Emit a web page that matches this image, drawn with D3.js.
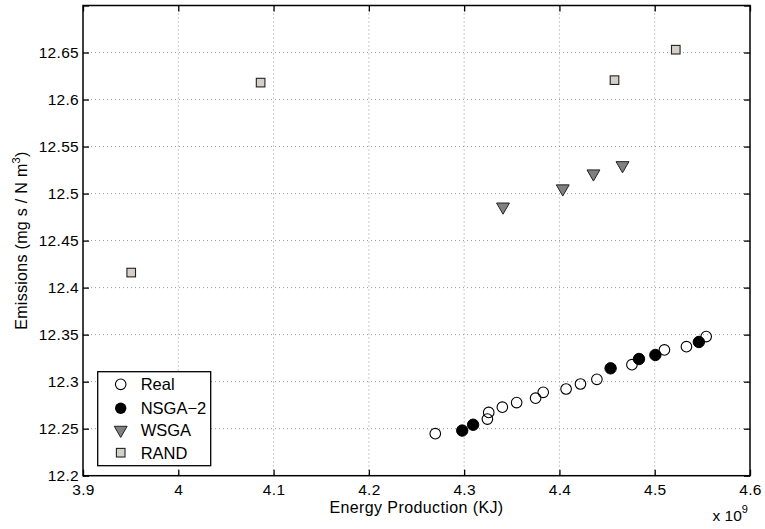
<!DOCTYPE html>
<html><head><meta charset="utf-8">
<script src="https://cdn.jsdelivr.net/npm/d3@7"></script>
<style>body{margin:0;background:#fff}svg{display:block}text{font-family:"Liberation Sans",Arial,sans-serif;fill:#000}</style>
</head><body>
<svg id="c" width="765" height="529"></svg>
<script>
const xTicks = [3.9, 4.0, 4.1, 4.2, 4.3, 4.4, 4.5, 4.6];
const yTicks = [12.2, 12.25, 12.3, 12.35, 12.4, 12.45, 12.5, 12.55, 12.6, 12.65, 12.7];
const yTickLabels = ["12.2", "12.25", "12.3", "12.35", "12.4", "12.45", "12.5", "12.55", "12.6", "12.65", ""];
const realX = [4.2697, 4.3244, 4.3258, 4.3401, 4.3551, 4.375, 4.383, 4.407, 4.4221, 4.4393, 4.4761, 4.5102, 4.5333, 4.554];
const realY = [12.2447, 12.2602, 12.2673, 12.2729, 12.2778, 12.2824, 12.2887, 12.2922, 12.2975, 12.3025, 12.3181, 12.3337, 12.3372, 12.3479];
const nsgaX = [4.298, 4.3094, 4.4537, 4.4835, 4.5007, 4.5463];
const nsgaY = [12.248, 12.2542, 12.3142, 12.3241, 12.3284, 12.3422];
const wsgaX = [4.3408, 4.4035, 4.4357, 4.4662];
const wsgaY = [12.486, 12.5053, 12.5212, 12.530];
const randX = [3.9506, 4.0864, 4.4578, 4.5221];
const randY = [12.416, 12.618, 12.6206, 12.653];
const legendLabels = ["Real", "NSGA\u22122", "WSGA", "RAND"];

const L = 83, R = 750, T = 5.5, B = 475.7;
const svg = d3.select("#c");
const x = d3.scaleLinear().domain([3.9, 4.6]).range([L, R]);
const y = d3.scaleLinear().domain([12.2, 12.7]).range([B, T]);
const fmt = d => String(+d.toFixed(2));

// grid
const g = svg.append("g");
g.selectAll(".gx").data(xTicks.slice(1, -1)).enter().append("line")
  .attr("x1", d => x(d)).attr("x2", d => x(d)).attr("y1", T).attr("y2", B)
  .attr("stroke", "#999").attr("stroke-width", 1).attr("stroke-dasharray", "1,3");
g.selectAll(".gy").data(yTicks.slice(1, -1)).enter().append("line")
  .attr("y1", d => y(d)).attr("y2", d => y(d)).attr("x1", L).attr("x2", R)
  .attr("stroke", "#999").attr("stroke-width", 1).attr("stroke-dasharray", "1,3");

// axes
const tl = 6;
const ax = svg.append("g").attr("transform", `translate(0,${B})`)
  .call(d3.axisBottom(x).tickValues(xTicks).tickFormat(fmt).tickSizeInner(-tl).tickSizeOuter(0).tickPadding(11));
const axT = svg.append("g").attr("transform", `translate(0,${T})`)
  .call(d3.axisTop(x).tickValues(xTicks).tickFormat("").tickSizeInner(-tl).tickSizeOuter(0));
const ay = svg.append("g").attr("transform", `translate(${L},0)`)
  .call(d3.axisLeft(y).tickValues(yTicks).tickFormat((d, i) => yTickLabels[i]).tickSizeInner(-tl).tickSizeOuter(0).tickPadding(4));
const ayR = svg.append("g").attr("transform", `translate(${R},0)`)
  .call(d3.axisRight(y).tickValues(yTicks).tickFormat("").tickSizeInner(-tl).tickSizeOuter(0));
[ax, axT, ay, ayR].forEach(a => {
  a.select(".domain").remove();
  a.selectAll("line").attr("stroke", "#000").attr("stroke-width", 1.3);
  a.selectAll("text").style("font-size", "15.5px").style("letter-spacing", "0.3px").attr("fill", "#000");
});
ax.selectAll("text").attr("dy", "0.55em");
svg.append("rect").attr("x", L).attr("y", T).attr("width", R - L).attr("height", B - T)
  .attr("fill", "none").attr("stroke", "#000").attr("stroke-width", 1.5);

// markers
const tri = d3.symbol().type(d3.symbolTriangle).size(72);
const plot = svg.append("g");
plot.selectAll(".rand").data(randX).enter().append("rect")
  .attr("x", (d, i) => x(d) - 4.3).attr("y", (d, i) => y(randY[i]) - 4.3)
  .attr("width", 8.6).attr("height", 8.6)
  .attr("fill", "#d4d0c8").attr("stroke", "#222").attr("stroke-width", 1.1);
plot.selectAll(".wsga").data(wsgaX).enter().append("path")
  .attr("d", tri).attr("transform", (d, i) => `translate(${x(d)},${y(wsgaY[i])}) rotate(180)`)
  .attr("fill", "#808080").attr("stroke", "#222").attr("stroke-width", 1);
plot.selectAll(".real").data(realX).enter().append("circle")
  .attr("cx", d => x(d)).attr("cy", (d, i) => y(realY[i])).attr("r", 5.3)
  .attr("fill", "none").attr("stroke", "#000").attr("stroke-width", 1.1);
plot.selectAll(".nsga").data(nsgaX).enter().append("circle")
  .attr("cx", d => x(d)).attr("cy", (d, i) => y(nsgaY[i])).attr("r", 5.7)
  .attr("fill", "#000").attr("stroke", "#000").attr("stroke-width", 1);

// labels
svg.append("text").attr("x", 416.5).attr("y", 512.5).attr("text-anchor", "middle")
  .style("font-size", "16px").style("letter-spacing", "0.4px").text("Energy Production (KJ)");
const xe = svg.append("text").attr("x", 712.5).attr("y", 521).style("font-size", "15.5px");
xe.append("tspan").text("x 10");
xe.append("tspan").attr("dy", -8).style("font-size", "11px").text("9");
const yl = svg.append("text").attr("transform", `translate(27,${(T + B) / 2}) rotate(-90)`)
  .attr("text-anchor", "middle").style("font-size", "16px").style("letter-spacing", "0.3px");
yl.append("tspan").text("Emissions (mg s / N m");
yl.append("tspan").attr("dy", -7).style("font-size", "11px").text("3");
yl.append("tspan").attr("dy", 7).text(")");

// legend
const lg = svg.append("g");
lg.append("rect").attr("x", 97.7).attr("y", 371.7).attr("width", 113).attr("height", 94)
  .attr("fill", "#fff").attr("stroke", "#000").attr("stroke-width", 1.3);
const ly = [384.3, 408.3, 430, 452.7];
const mx = 120.7;
lg.append("circle").attr("cx", mx).attr("cy", ly[0]).attr("r", 5.3).attr("fill", "none").attr("stroke", "#000").attr("stroke-width", 1.1);
lg.append("circle").attr("cx", mx).attr("cy", ly[1]).attr("r", 5.7).attr("fill", "#000");
lg.append("path").attr("d", tri).attr("transform", `translate(${mx},${ly[2]}) rotate(180)`).attr("fill", "#808080").attr("stroke", "#222");
lg.append("rect").attr("x", mx - 4.3).attr("y", ly[3] - 4.3).attr("width", 8.6).attr("height", 8.6).attr("fill", "#d4d0c8").attr("stroke", "#222").attr("stroke-width", 1.1);
lg.selectAll(".lt").data(legendLabels).enter().append("text")
  .attr("x", 140.7).attr("y", (d, i) => ly[i]).attr("dy", "0.36em")
  .style("font-size", "16.5px").text(d => d);
</script>
</body></html>
